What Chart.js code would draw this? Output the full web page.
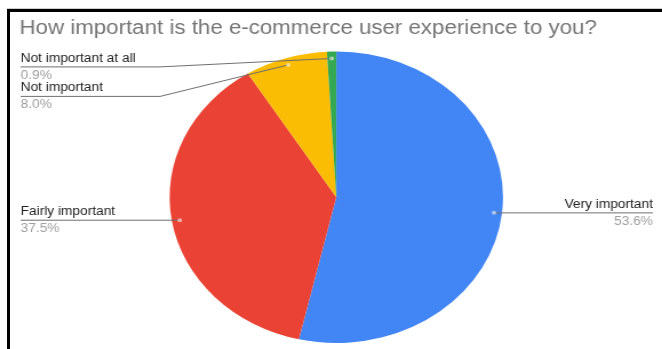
<!DOCTYPE html>
<html>
<head>
<meta charset="utf-8">
<script src="https://cdn.jsdelivr.net/npm/chart.js@4.4.1/dist/chart.umd.min.js"></script>
<style>
  html, body { margin: 0; padding: 0; background: #fff; }
  #wrap { position: relative; width: 662px; height: 349px; overflow: hidden; background: #fff; }
  /* the sheet export is a bit wider than tall, so the pie is stretched sideways */
  #pie { position: absolute; left: 0; top: 0; width: 579px; height: 349px; transform-origin: 0 0; transform: scaleX(1.1434); }
  #frame { position: absolute; left: 7px; top: 9px; right: -10px; bottom: -10px;
           border-top: 3px solid #000; border-left: 3px solid #000;
           box-shadow: 0 -1px 0 #cfcfcf; pointer-events: none; }
</style>
</head>
<body>
<div id="wrap">
  <canvas id="pie" width="579" height="349"></canvas>
  <div id="frame"></div>
</div>
<script>
const answers = ['Very important', 'Fairly important', 'Not important', 'Not important at all'];
const shares = [53.6, 37.5, 8.0, 0.9];
const sliceColors = ['#4285f4', '#ea4335', '#fbbc04', '#34a853'];

const labelFont = '12px "Liberation Sans", Arial, sans-serif';

// labels at the chart edges with leader lines to a dot on each slice
const sliceLabels = {
  id: 'sliceLabels',
  afterDatasetsDraw(chart) {
    const ctx = chart.ctx;
    const area = chart.chartArea;
    const arcs = chart.getDatasetMeta(0).data;
    const total = shares.reduce((a, b) => a + b, 0);
    const left = [], right = [];

    arcs.forEach((arc, i) => {
      const p = arc.getProps(['x', 'y', 'startAngle', 'endAngle', 'outerRadius']);
      const mid = (p.startAngle + p.endAngle) / 2;
      const r = p.outerRadius - 7;
      const item = { i, dot: { x: p.x + Math.cos(mid) * r, y: p.y + Math.sin(mid) * r } };
      (Math.cos(mid) < 0 ? left : right).push(item);
    });

    const place = (items) => {
      items.sort((a, b) => a.dot.y - b.dot.y);
      let prev = -Infinity;
      items.forEach(it => {
        it.lineY = Math.max(it.dot.y, prev + 29.5, area.top + 15.5);
        prev = it.lineY;
      });
    };
    place(left);
    place(right);

    ctx.save();
    ctx.font = labelFont;
    ctx.textBaseline = 'middle';
    ctx.lineWidth = 1;

    const draw = (it, side) => {
      const edgeX = side === 'left' ? area.left + 1 : chart.width - 8;
      const kneeX = side === 'left' ? 140 : chart.width - 140;
      ctx.strokeStyle = '#6f6f6f';
      ctx.beginPath();
      ctx.moveTo(edgeX, it.lineY);
      ctx.lineTo(kneeX, it.lineY);
      ctx.lineTo(it.dot.x, it.dot.y);
      ctx.stroke();

      ctx.fillStyle = 'rgba(255,255,255,0.55)';
      ctx.beginPath();
      ctx.arc(it.dot.x, it.dot.y, 2, 0, Math.PI * 2);
      ctx.fill();

      ctx.textAlign = side === 'left' ? 'left' : 'right';
      ctx.fillStyle = '#222';
      ctx.fillText(answers[it.i], edgeX, it.lineY - 8.5);
      ctx.fillStyle = '#9e9e9e';
      ctx.fillText((shares[it.i] / total * 100).toFixed(1) + '%', edgeX, it.lineY + 8.5);
    };
    left.forEach(it => draw(it, 'left'));
    right.forEach(it => draw(it, 'right'));
    ctx.restore();
  }
};

new Chart(document.getElementById('pie'), {
  type: 'pie',
  data: {
    labels: answers,
    datasets: [{
      data: shares,
      backgroundColor: sliceColors,
      borderWidth: 0
    }]
  },
  options: {
    responsive: false,
    animation: false,
    layout: { padding: { top: 4, left: 17, right: 7.8, bottom: 6 } },
    plugins: {
      legend: { display: false },
      tooltip: { enabled: false },
      title: {
        display: true,
        text: 'How important is the e-commerce user experience to you?',
        align: 'start',
        color: '#757575',
        font: { family: '"Liberation Sans", Arial, sans-serif', size: 19.5, weight: 'normal' },
        padding: { top: 13, bottom: 11 }
      }
    }
  },
  plugins: [sliceLabels]
});
</script>
</body>
</html>
